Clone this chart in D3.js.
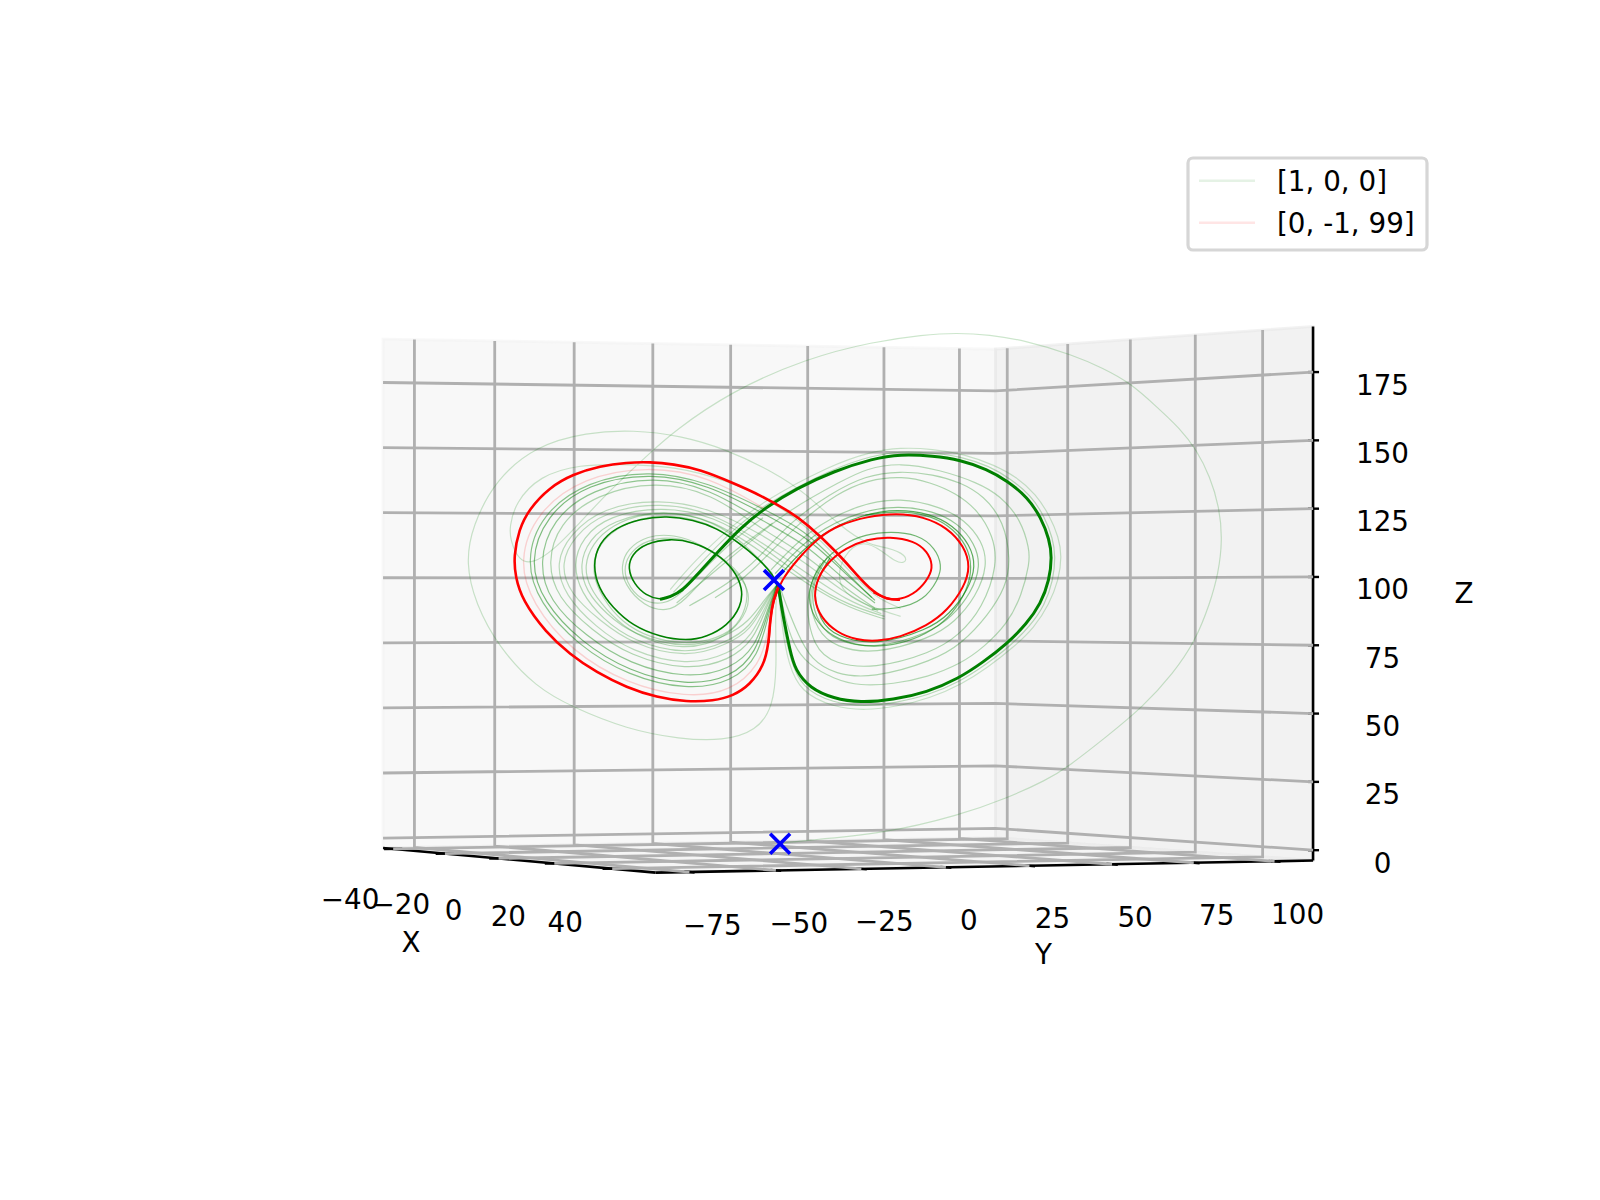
<!DOCTYPE html>
<html>
<head>
<meta charset="utf-8">
<script src="https://cdn.jsdelivr.net/npm/d3@7"></script>
<style>
  body { margin: 0; background: #fff; }
  text { font-family: "DejaVu Sans", sans-serif; fill: #000; }
</style>
</head>
<body>
<div class="chart"></div>
<script>
// axis ticks and limits
const xTicks = [-40, -20, 0, 20, 40]
const yTicks = [-75, -50, -25, 0, 25, 50, 75, 100]
const zTicks = [0, 25, 50, 75, 100, 125, 150, 175]
const xLim = [-44, 54.5]
const yLim = [-84.7, 112]
const zLim = [-3.8, 191.7]

// start points
const startNames = ['[1, 0, 0]', '[0, -1, 99]']
const startX = [1, 0]
const startY = [0, -1]
const startZ = [0, 99]

// trajectories as [Y, Z], near the x = 0 plane
const greenBold = [[-0.2,96.1],[1.3,84.9],[3.4,72.4],[5,64.9],[9.7,58],[17,54.2],[25.3,52.6],[35.7,53.7],[46.2,56.5],[56,61.6],[63.8,67.8],[71.2,74.7],[77.4,82.2],[81.8,89.7],[84.5,98.6],[85.3,107.4],[84.5,113.8],[81.9,122],[77.7,129.6],[71.4,135.8],[65,140.2],[56.6,143.7],[48.2,145.2],[37.8,145.8],[29.5,144.2],[17,139.4],[5.5,133],[-3.9,126.1],[-12.2,118],[-19.5,108.6],[-25.7,100.5],[-29.9,94.9],[-34.1,92.1],[-37.2,91.4]]
const greenThin = [[-29.9,94.9],[-34.1,92.1],[-37.2,91.2],[-41.6,92.8],[-45.3,97.1],[-47.3,103],[-46,108.3],[-41.6,112.4],[-34.1,114.2],[-26.8,112.9],[-19.5,108.8],[-14.1,102.6],[-11.3,95.5],[-11.8,88.6],[-16.2,81.4],[-22.6,77.3],[-28.8,75.8],[-37.2,77.3],[-45.7,81.4],[-52.1,88.4],[-56.4,95.5],[-58.2,104.2],[-56.3,112.5],[-51,118.3],[-43.4,121.6],[-35.1,122.7],[-26.8,121.2],[-19.5,118.2],[-12.2,112.3],[-5.9,106.1],[-1.8,100.5],[-0.2,96.1],[1.3,84.9],[3.4,72.4]]
const redBold = [[-0.2,96.1],[-1.8,91.1],[-2.8,83.6],[-3.2,75],[-4.7,66.5],[-9.1,59.3],[-14.3,55.2],[-20.5,53.3],[-28.8,52.9],[-38.2,54.6],[-47.6,58.3],[-57,63.9],[-65.5,70.9],[-72.9,79],[-80.2,91],[-82.4,99.9],[-82.9,107.4],[-81.3,117.6],[-78.1,125.2],[-71.8,133.3],[-64.4,138.3],[-55.9,141.4],[-47.6,142.7],[-40.3,142.9],[-33,142.1],[-24.7,140.1],[-14.3,135],[-5.9,130.5],[3.4,124.2],[8.6,119.8],[18.5,108.6],[24.3,100.5],[29.5,94],[33.6,91.4],[37.8,91.2]]
const redThin = [[29.5,94],[33.6,91.4],[37.8,91.2],[43.2,94],[47.1,99.9],[48.1,104.2],[46.4,109.4],[42.2,113.3],[34.7,114.9],[27.4,113.9],[21,110.7],[14.7,104.9],[11.4,97.4],[11,91.1],[13,84.7],[18,78.9],[24.3,76.1],[30.5,75.6],[37.8,77.1],[46.3,81.5],[52.7,87.2],[57.9,96.1],[59.8,103.6],[57.9,111.3],[52.6,118.3],[45.1,122.4],[36.8,123.7],[27.4,122.4],[19,119.4],[12.6,114.9],[5.5,106.1],[0.8,98.6],[-1.8,91.1],[-2.8,83.6],[-3.2,75]]
const redHalo = [[-4,125],[-22,137.7],[-41,141.3],[-61,137.3],[-75.8,124.2],[-81.4,106],[-77.3,89.8],[-64.7,71.7],[-47.5,59.7],[-29,54.5],[-15,56.7],[-6,67],[-3.5,78],[-2,92]]

// first excursion from the origin, then the wide pass around both wings
const transientA = [[0.9,0],[6.6,0.8],[32.5,3.4],[56.6,10.5],[71.2,16.8],[83.6,23.6],[90.4,28.6],[102.4,39.9],[113.8,51.1],[123.2,63.6],[130,75.5],[134.7,89.9],[137.3,101.1],[138.6,113.6],[137.6,126.1],[134.7,137.4],[130.5,147.4],[125.3,155.5],[118,163.6],[109.7,172.6],[101.3,178],[92,183],[76.3,188.6],[65.9,190.6],[55.5,191.3],[45.1,190.6],[29.5,188],[8.7,181.8],[-15.3,169.2],[-33,154.2],[-39.3,147.4],[-52.8,132.4],[-64.3,117.4],[-70.5,109.9],[-76.8,104.8],[-81.2,105.6],[-84,113.6],[-84.2,118.6],[-82.4,127.6],[-74.9,137.7],[-62.2,142],[-48.6,142],[-33,141.3],[-16.3,136.1],[0,127],[12,115],[22,102],[30,92],[38,88]]
const transientB = [[-0.7,94.9],[-1.2,84.9],[-0.7,66.1],[-1.8,51.1],[-7,42],[-17.4,38.3],[-30.9,38.9],[-47.6,42.7],[-64.3,50.8],[-75.9,58.3],[-87.6,73.4],[-94.9,89.9],[-97.9,104.9],[-95.9,118.8],[-88.5,136.4],[-75.9,149],[-60.1,154],[-45.5,154.9],[-30.9,152.8],[-16.3,147.6],[-1.8,139.2],[8.6,131.1],[19.1,118.6],[28.4,111.5],[33.6,111],[40.2,107.8],[39.4,104.7],[36.2,105.6],[32.6,109.2],[26,114],[20,108],[18,98],[22,92],[30,88],[38,85]]

// left wing passes, outer to inner
const leftA = [[29,92],[18.5,104.5],[8.6,117],[-5.9,125.9],[-22,135.2],[-40.2,139.9],[-60,135.8],[-74.4,123.2],[-79.2,105.7],[-75,90.1],[-62.9,74.1],[-47.2,62.7],[-28.8,57.3],[-14.7,60.3],[-6.3,69.8],[-3.2,86.3],[-0.5,97]]
const leftB = [[30,91],[19,103],[8.6,115],[-5.9,124.2],[-21.8,134.2],[-39.8,139],[-60,134.8],[-72.9,122.7],[-78,105.6],[-73.8,90.5],[-62,75.4],[-47,64.3],[-28.8,58.9],[-14.9,62.1],[-7.1,71.2],[-3.4,87],[-0.5,97]]
const leftC = [[30,90],[19,100],[8.6,112],[-5.9,121.2],[-21.4,132.7],[-39,137.7],[-58.7,132.8],[-70.9,121.2],[-75.1,105.4],[-71.9,90.7],[-60.3,77.5],[-46.8,67.1],[-28.8,61.6],[-15.1,65.1],[-7.2,73.6],[-3.6,87.7],[-0.5,97]]
const leftD = [[30,88],[19,97],[8.6,108],[-5.9,118],[-21,131.2],[-38.5,135.8],[-57.2,130.8],[-68.9,119.7],[-72.4,105.1],[-69.4,92.2],[-58.5,79.7],[-46.5,70.1],[-28.8,64.6],[-15.4,68.5],[-7.8,76.2],[-3.9,88.6],[-0.5,97]]
const leftE = [[31,87],[20,94],[8.6,105],[-5.9,116.1],[-20.8,125.2],[-37.5,129.1],[-55.2,125.8],[-65.4,115.7],[-69.9,105],[-66.9,92.8],[-57.4,81.1],[-46.4,71.9],[-28.8,66.4],[-15.6,70.8],[-8.3,77.8],[-4.1,89.2],[-0.5,97]]
const leftF = [[32,86],[21,91],[9,101],[-5.9,113.2],[-20.4,123.7],[-37,127.9],[-54.7,124.3],[-63.9,115.2],[-68.4,104.8],[-65.4,93.5],[-55.8,83.2],[-46.1,74.7],[-28.8,69.2],[-15.8,74.6],[-8.8,80],[-4.3,90],[-0.5,97]]
const leftG = [[33,85],[22,89],[10,97],[-5.9,112],[-20.2,122.7],[-36.8,126.3],[-53.2,122.8],[-61.4,114.7],[-64.4,104.6],[-61.9,93.8],[-55.1,84.1],[-46,75.9],[-28.8,70.3],[-15.9,75.5],[-9.1,81],[-4.5,90.5],[-0.5,97]]
const leftH = [[33,84],[22,88],[10,96],[-5.9,109.5],[-19.9,121],[-36.2,125.2],[-52.2,121],[-59.4,113.7],[-62.4,104.5],[-60.4,94.4],[-53.9,85.8],[-45.8,78.2],[-28.8,72.6],[-16.1,77.7],[-9.5,83],[-4.7,91],[-0.5,97]]
const leftInner = [[-2,120],[-10,113],[-20,104],[-30,90],[-35,86.7],[-42.2,88.7],[-48.4,97],[-49.4,104],[-47.4,110.3],[-41.2,115.3],[-33,115.8],[-24,112.2],[-14,103],[-9.1,95],[-9.6,87],[-15,78.7],[-23,74.2],[-30,73.2],[-38,74.7],[-47.2,79.7],[-54.3,87.8],[-59.4,96],[-60.9,104],[-58.4,112.2],[-52.2,119.3],[-42,123.8],[-30,123.8],[-18,119.2],[-8,109],[-2,101]]
const leftInner2 = [[-5,122],[-14,114],[-24,102],[-31,93],[-36,89.2],[-43.2,90.7],[-47.9,98],[-48.4,104],[-46.4,109.2],[-41.2,113.8],[-33,114.8],[-25,112.2],[-15,105],[-9.6,97],[-10.1,88],[-14,79.7],[-22,75.7],[-30,74.7],[-40,76.7],[-49.2,82.7],[-55.3,92],[-58.4,101],[-57.4,110.2],[-51.2,118.3],[-41,122.8],[-30,122.8],[-18,118],[-8,108]]

// right wing passes, inner to outer
const rightA = [[16,107],[10.1,96],[12.8,83],[17.9,77.3],[30.3,74],[46.6,80],[53.3,85.8],[59.1,94.9],[61.6,103.8],[59.7,111.9],[54.4,119.2],[46.9,123.6],[37.2,125.2],[26.7,123.6],[11.6,115.7],[-0.2,99.8]]
const rightB = [[15,107],[9.1,95],[12.4,81.4],[17.9,75.7],[30.1,72.6],[46.8,78.7],[53.9,84.6],[60.1,93.8],[63.1,103.9],[61.2,112.4],[55.9,120],[48.2,124.5],[37.5,126.5],[26,124.7],[10.4,116.4],[-1.2,101]]
const rightC = [[14,106],[8.6,94],[11.8,79.2],[17.8,73.4],[29.8,70.7],[47.2,76.7],[54.9,82.8],[61.6,92.3],[65.3,104.2],[63.5,113.2],[58.1,121.2],[50.3,126.1],[38,129.5],[25.1,127.2],[9.1,117.4],[-2.5,102.4]]
const rightD = [[13,105],[7.6,92],[10.8,72.7],[17.5,67.2],[29.4,65.2],[47.7,71.3],[56.2,77.8],[63.6,88],[68.4,104.5],[66.9,115.2],[62.2,124.8],[55.2,131.3],[47.2,135.3],[38.6,137.6],[28,136.3],[18,131],[7.1,121],[-4.3,107],[-12,98],[-20,92]]
const rightE = [[0,97],[2,90],[6,78],[10,68.8],[17.5,63.2],[29.1,61.7],[48.2,68.3],[57.2,74.8],[65.3,85.3],[70.9,96],[72.4,106],[70.3,120.7],[64,130.2],[56.8,135.2],[48.2,138.3],[37.8,139.5],[27,137.8],[16,131],[3,120],[-6,107],[-16,97],[-28,89]]
const rightF = [[0,97],[1.5,86],[4.5,74],[9.1,66.9],[17.3,61.4],[25.3,58.9],[35.7,59.6],[46.4,62.2],[56.8,67.2],[64,73.4],[71.4,82.2],[75.9,93],[78.3,105],[78.3,110],[75.6,121.3],[69.2,130.2],[62,135.2],[50.3,139.9],[37.8,142.7],[27,140.3],[20,136],[3,125],[-10,112],[-22,100],[-32,90]]
const rightG = [[-0.3,96],[1.2,82],[3.5,69],[7,58.2],[17,52.4],[27,51.2],[36,52.5],[46.7,55.4],[56.7,60.6],[64.5,66.8],[72.2,73.8],[78.5,81.4],[83,89.1],[85.7,98.4],[86.4,107.4],[85.6,114.2],[82.9,122.6],[78.7,130.4],[72.2,136.7],[65.8,141.3],[57,144.9],[48.2,146.3],[37.8,146.9],[29.3,145.3],[16.6,140.4],[-4.9,126.8],[-15.3,116.6],[-26,103],[-33,94]]
const rightH = [[-0.3,96],[1,80],[3,67],[6.7,56.7],[16.9,50.9],[27,49.7],[37,51.2],[47.2,54.3],[57.2,59.6],[65.2,65.8],[73.2,73.3],[79.8,80.8],[84.4,89.4],[87.4,98.6],[88.4,107.5],[87.4,114.7],[84.6,122.7],[80.3,130.8],[74.2,137.3],[67.2,141.8],[58,145.8],[48,147.8],[37.8,148.3],[29,146.8],[16,141.7],[-6,127.5],[-16.5,117],[-27,105],[-34,95]]
const rightInner = [[29,87.7],[37,87.7],[45.2,90.8],[49.9,99],[50.9,104],[48.9,110.7],[43.2,115.8],[35,116.8],[27,115.8],[20,112.2],[13.3,105.5],[9.6,97],[9.2,90],[11.7,82.8],[17,77.2],[24,74.2],[31,73.5],[40,75.2],[48.2,79.8],[54.2,85.8],[58.9,95],[60.4,103.5],[58.8,111.7],[53.2,119.3],[45.7,123.3],[37,124.5],[27,123]]

const traces = [
  [transientA, 0.2], [transientB, 0.2],
  [leftA, 0.45], [leftB, 0.5], [leftC, 0.42], [leftD, 0.3], [leftE, 0.25], [leftF, 0.25], [leftG, 0.28], [leftH, 0.28],
  [leftInner, 0.28], [leftInner2, 0.28],
  [rightA, 0.65], [rightB, 0.4], [rightC, 0.3], [rightD, 0.3], [rightE, 0.3], [rightF, 0.28], [rightG, 0.26], [rightH, 0.2],
  [rightInner, 0.55]
]

const GREEN = '#008000'
const RED = '#ff0000'
const BLUE = '#0000ff'
const GRID = '#b0b0b0'
const DIST = 10
const AZIM = -25 * Math.PI / 180

const svg = d3.select('.chart').append('svg')
  .attr('width', 1600)
  .attr('height', 1200)
  .style('display', 'block')

// view plane to page
const viewX = d3.scaleLinear().domain([-0.1, 0.1]).range([137.4, 1536.2])
const viewY = d3.scaleLinear().domain([-0.1, 0.1]).range([1114.7, 72.3])
// data limits to the unit cube
const cubeX = d3.scaleLinear().domain(xLim).range([-0.5, 0.5])
const cubeY = d3.scaleLinear().domain(yLim).range([-0.5, 0.5])
const cubeZ = d3.scaleLinear().domain(zLim).range([-0.5, 0.5])

// same kind of camera mplot3d uses, elevation 0
const project = (x, y, z) => {
  const wx = cubeX(x)
  const wy = cubeY(y)
  const u = -Math.sin(AZIM) * wx + Math.cos(AZIM) * wy
  const v = Math.cos(AZIM) * wx + Math.sin(AZIM) * wy
  const depth = DIST - v
  return [viewX(u / depth), viewY(cubeZ(z) / depth)]
}

const poly = pts => d3.line()(pts.map(p => project(...p))) + 'Z'
const polyline = pts => d3.line()(pts.map(p => project(...p)))

const [x0, x1] = xLim
const [y0, y1] = yLim
const [z0, z1] = zLim

// panes
const panes = [
  [[[x0, y0, z0], [x0, y1, z0], [x0, y1, z1], [x0, y0, z1]], '#f2f2f2'],
  [[[x0, y1, z0], [x1, y1, z0], [x1, y1, z1], [x0, y1, z1]], '#e6e6e6'],
  [[[x0, y0, z0], [x1, y0, z0], [x1, y1, z0], [x0, y1, z0]], '#ececec']
]
panes.forEach(([pts, color]) => {
  svg.append('path')
    .attr('d', poly(pts))
    .attr('fill', color)
    .attr('fill-opacity', 0.5)
    .attr('stroke', color)
    .attr('stroke-opacity', 0.5)
    .attr('stroke-width', 2.8)
})

// axis lines go under the grid
const axisLines = [
  [[x0, y0, z0], [x1, y0, z0]],
  [[x1, y0, z0], [x1, y1, z0]],
  [[x1, y1, z0], [x1, y1, z1]]
]
axisLines.forEach(pts => {
  svg.append('path').attr('d', polyline(pts)).attr('stroke', '#000').attr('stroke-width', 2.6).attr('fill', 'none')
})

const tickMark = pts => {
  svg.append('path').attr('d', polyline(pts)).attr('stroke', '#000').attr('stroke-width', 2.4).attr('fill', 'none')
}
xTicks.forEach(t => tickMark([[t, y0 - 2.8, z0], [t, y0 + 2.8, z0]]))
yTicks.forEach(t => tickMark([[x1 - 1.7, t, z0], [x1 + 1.7, t, z0]]))
zTicks.forEach(t => {
  const [px, py] = project(x1, y1, t)
  svg.append('line').attr('x1', px - 5).attr('x2', px + 6).attr('y1', py).attr('y2', py)
    .attr('stroke', '#000').attr('stroke-width', 2.4)
})

// grid
const gridLine = pts => {
  svg.append('path').attr('d', polyline(pts)).attr('stroke', GRID).attr('stroke-width', 2.8).attr('fill', 'none')
}
xTicks.forEach(t => gridLine([[t, y0, z0], [t, y1, z0], [t, y1, z1]]))
yTicks.forEach(t => gridLine([[x1, t, z0], [x0, t, z0], [x0, t, z1]]))
zTicks.forEach(t => gridLine([[x0, y0, t], [x0, y1, t], [x1, y1, t]]))

// tick labels
const label = (str, pos, dx, dy) => {
  svg.append('text')
    .attr('x', pos[0] + dx)
    .attr('y', pos[1] + dy)
    .attr('dy', '0.36em')
    .attr('text-anchor', 'middle')
    .attr('font-size', 27.78)
    .text(str)
}
const tickText = t => String(t).replace('-', '\u2212')
xTicks.forEach(t => label(tickText(t), project(t, y0, z0), -43 - (t + 40) * 0.05, 50 + (t + 40) * 0.04))
yTicks.forEach(t => label(tickText(t), project(x1, t, z0), 23, 52.5))
zTicks.forEach(t => label(tickText(t), project(x1, y1, t), 69.5, 12.5))
label('X', project((x0 + x1) / 2, y0, z0), -102, 82)
label('Y', project(x1, (y0 + y1) / 2, z0), 52, 88)
label('Z', project(x1, y1, (z0 + z1) / 2), 151, -1)

// trajectories, drawn flat through their own Y and Z scales
const trailY = d3.scaleLinear().domain([-100, 100]).range([459, 1099])
const trailZ = d3.scaleLinear().domain([0, 200]).range([843, 309.67])
const trail = d3.line()
  .x(d => trailY(d[0]))
  .y(d => trailZ(d[1]))
  .curve(d3.curveBasis)

const addTrail = (data, color, width, opacity) => {
  svg.append('path')
    .datum(data)
    .attr('fill', 'none')
    .attr('stroke', color)
    .attr('stroke-width', width)
    .attr('stroke-opacity', opacity)
    .attr('d', trail)
}

traces.forEach(([data, opacity]) => addTrail(data, GREEN, 1.2, opacity))
addTrail(redHalo, RED, 1.4, 0.16)
addTrail(greenThin, GREEN, 1.6, 1)
addTrail(greenBold, GREEN, 3, 1)
addTrail(redThin, RED, 2, 1)
addTrail(redBold, RED, 2.6, 1)

// start markers
startX.forEach((sx, i) => {
  const [px, py] = project(sx, startY[i], startZ[i])
  svg.append('path')
    .attr('d', d3.symbol(d3.symbolX, 260)())
    .attr('transform', `translate(${px},${py})`)
    .attr('fill', 'none')
    .attr('stroke', BLUE)
    .attr('stroke-width', 3.6)
})

// legend
const legend = svg.append('g')
legend.append('rect')
  .attr('x', 1188).attr('y', 158)
  .attr('width', 239).attr('height', 92)
  .attr('rx', 5)
  .attr('fill', '#fff')
  .attr('stroke', '#d6d6d6')
  .attr('stroke-width', 3.2)
const legendColors = [GREEN, RED]
startNames.forEach((name, i) => {
  const ly = 180.7 + i * 42
  legend.append('line')
    .attr('x1', 1199).attr('x2', 1255).attr('y1', ly).attr('y2', ly)
    .attr('stroke', legendColors[i]).attr('stroke-opacity', 0.1).attr('stroke-width', 2.4)
  legend.append('text')
    .attr('x', 1277).attr('y', ly)
    .attr('dy', '0.36em')
    .attr('font-size', 27.78)
    .text(name)
})
</script>
</body>
</html>
